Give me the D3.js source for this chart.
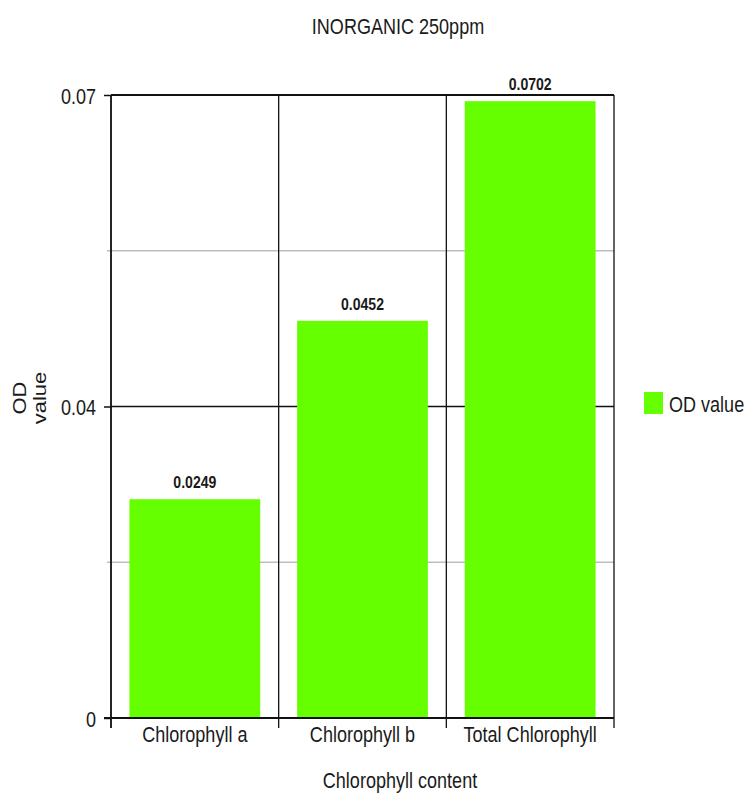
<!DOCTYPE html>
<html>
<head>
<meta charset="utf-8">
<script src="https://cdn.jsdelivr.net/npm/d3@7"></script>
<style>
  html, body { margin: 0; padding: 0; background: #fff; }
  svg { display: block; }
  text { font-family: "Liberation Sans", Arial, sans-serif; fill: #1a1a1a; }
</style>
</head>
<body>
<svg id="chart" width="752" height="799"></svg>
<script>
// ---- data ----
const categories = ["Chlorophyll a", "Chlorophyll b", "Total Chlorophyll"];
const odValues = [0.0249, 0.0452, 0.0702];
const valueLabels = ["0.0249", "0.0452", "0.0702"];
const yMax = 0.0709;
const yTickValues = [0, 0.03545, 0.0709];
const yTickLabels = ["0", "0.04", "0.07"];
const yMinorGrid = [0.017725, 0.053175];
const titleText = "INORGANIC 250ppm";
const xTitle = "Chlorophyll content";
const yTitleLines = ["OD", "value"];
const seriesName = "OD value";

// ---- layout ----
const pLeft = 111, pRight = 614, pTop = 95, pBottom = 718;
const SX = 0.82;            // horizontal squeeze of the text
const barColor = "#66ff00";
const lineColor = "#111";

const svg = d3.select("#chart");

const x = d3.scaleBand().domain(categories).range([pLeft, pRight]).padding(0);
const y = d3.scaleLinear().domain([0, yMax]).range([pBottom, pTop]);

function sText(g, tx, ty, str, opts = {}) {
  return g.append("text")
    .attr("transform", `translate(${tx},${ty}) scale(${opts.sx || SX},1)`)
    .attr("text-anchor", opts.anchor || "middle")
    .attr("font-size", opts.size || 22)
    .attr("font-weight", opts.weight || "normal")
    .text(str);
}

// minor grid
svg.append("g").selectAll("line").data(yMinorGrid).join("line")
  .attr("x1", pLeft - 4).attr("x2", pRight)
  .attr("y1", d => y(d)).attr("y2", d => y(d))
  .attr("stroke", "#bdbdbd").attr("stroke-width", 1.5);

// major grid
svg.append("g").selectAll("line").data(yTickValues.slice(1)).join("line")
  .attr("x1", pLeft).attr("x2", pRight)
  .attr("y1", d => y(d)).attr("y2", d => y(d))
  .attr("stroke", lineColor).attr("stroke-width", d => d === yMax ? 2 : 1.3);

// vertical boundaries
const bounds = categories.map(c => x(c)).concat([x(categories[categories.length - 1]) + x.bandwidth()]);
svg.append("g").selectAll("line").data(bounds).join("line")
  .attr("x1", d => d).attr("x2", d => d)
  .attr("y1", pTop).attr("y2", pBottom + 10)
  .attr("stroke", lineColor).attr("stroke-width", 1.3);

// bars
const pad = 0.11;
svg.append("g").selectAll("rect").data(odValues).join("rect")
  .attr("x", (d, i) => x(categories[i]) + x.bandwidth() * pad)
  .attr("width", x.bandwidth() * (1 - 2 * pad))
  .attr("y", d => y(d))
  .attr("height", d => y(0) - y(d))
  .attr("fill", barColor);

// value labels
const vl = svg.append("g");
odValues.forEach((d, i) => {
  sText(vl, x(categories[i]) + x.bandwidth() / 2, y(d) - 11, valueLabels[i], { size: 16, weight: "bold", sx: 0.88 });
});

// left axis
const yAxis = d3.axisLeft(y).tickValues(yTickValues).tickFormat((d, i) => yTickLabels[i]).tickSize(7).tickSizeOuter(0);
const gy = svg.append("g").attr("transform", `translate(${pLeft},0)`).call(yAxis);
gy.select(".domain").remove();
gy.selectAll(".tick line").attr("stroke", lineColor).attr("stroke-width", 1.5);
gy.selectAll(".tick text")
  .attr("x", null).attr("dy", null).attr("y", null)
  .attr("font-size", 22).attr("font-family", null)
  .attr("fill", "#1a1a1a")
  .attr("transform", `translate(-15,8) scale(${SX},1)`);
svg.append("line").attr("x1", pLeft).attr("x2", pLeft).attr("y1", pTop).attr("y2", pBottom + 10)
  .attr("stroke", lineColor).attr("stroke-width", 1.5);

// bottom axis
const xAxis = d3.axisBottom(x).tickSize(0);
const gx = svg.append("g").attr("transform", `translate(0,${pBottom})`).call(xAxis);
gx.select(".domain").remove();
gx.selectAll(".tick text")
  .attr("y", null).attr("dy", null)
  .attr("font-size", 22).attr("font-family", null)
  .attr("fill", "#1a1a1a")
  .attr("transform", `translate(0,24) scale(${SX},1)`);
svg.append("line").attr("x1", pLeft - 7).attr("x2", pRight).attr("y1", pBottom).attr("y2", pBottom)
  .attr("stroke", lineColor).attr("stroke-width", 2);

// titles
sText(svg, 398, 34, titleText, { size: 22 });
sText(svg, 400, 788, xTitle, { size: 22 });
const yt = svg.append("g");
yTitleLines.forEach((s, i) => {
  yt.append("text")
    .attr("transform", `translate(${26 + i * 20},398) scale(${SX},1) rotate(-90)`)
    .attr("text-anchor", "middle")
    .attr("font-size", 22)
    .text(s);
});

// legend
const lg = svg.append("g");
lg.append("rect").attr("x", 644).attr("y", 392).attr("width", 19).attr("height", 22).attr("fill", barColor);
sText(lg, 669, 412, seriesName, { size: 22, anchor: "start" });
</script>
</body>
</html>
